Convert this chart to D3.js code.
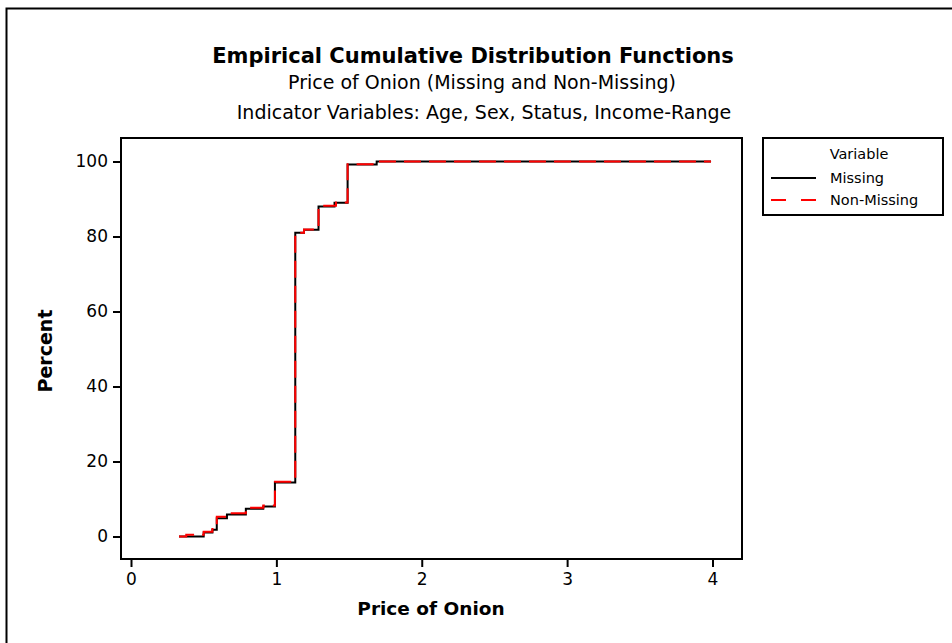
<!DOCTYPE html>
<html>
<head>
<meta charset="utf-8">
<script src="https://cdn.jsdelivr.net/npm/d3@7"></script>
<style>
  body { margin: 0; background: #fff; }
  svg { display: block; font-family: "DejaVu Sans", sans-serif; }
</style>
</head>
<body>
<svg id="svg" width="952" height="643"></svg>
<script>
// step points (price, cumulative percent)
const missingX   = [0.33, 0.50, 0.56, 0.59, 0.66, 0.79, 0.91, 0.99, 1.13, 1.19, 1.29, 1.40, 1.49, 1.69, 3.99];
const missingPct = [0,    1.1,  1.8,  4.9,  5.9,  7.4,  8.0,  14.4, 81.0, 81.8, 88.0, 89.0, 99.2, 100,  100];

const nonMissingX   = [0.33, 0.38, 0.50, 0.56, 0.59, 0.67, 0.79, 0.91, 0.99, 1.13, 1.19, 1.29, 1.41, 1.49, 1.69, 3.99];
const nonMissingPct = [0,    0.5,  1.3,  2.0,  5.3,  6.2,  7.7,  8.3,  14.6, 81.0, 81.9, 88.2, 89.1, 99.3, 100,  100];

const xTicks = [0, 1, 2, 3, 4];
const yTicks = [0, 20, 40, 60, 80, 100];

const seriesNames = ["Missing", "Non-Missing"];

const svg = d3.select("#svg");

// outer border (only left/top show in the picture)
svg.append("rect")
  .attr("x", 6.5).attr("y", 8.5)
  .attr("width", 1000).attr("height", 1000)
  .attr("fill", "none").attr("stroke", "#000").attr("stroke-width", 2);

// plot box
const box = {left: 121, right: 742, top: 138, bottom: 559};

const x = d3.scaleLinear().domain([-0.0688, 4.203]).range([box.left, box.right]);
const y = d3.scaleLinear().domain([-6.0, 106.27]).range([box.bottom, box.top]);

// titles
svg.append("text")
  .attr("x", 473).attr("y", 63)
  .attr("text-anchor", "middle")
  .attr("font-size", 21).attr("font-weight", "bold")
  .text("Empirical Cumulative Distribution Functions");
svg.append("text")
  .attr("x", 482).attr("y", 89)
  .attr("text-anchor", "middle")
  .attr("font-size", 19)
  .text("Price of Onion (Missing and Non-Missing)");
svg.append("text")
  .attr("x", 484).attr("y", 119)
  .attr("text-anchor", "middle")
  .attr("font-size", 19)
  .text("Indicator Variables: Age, Sex, Status, Income-Range");

// axes
const xAxis = svg.append("g")
  .attr("transform", `translate(0,${box.bottom})`)
  .call(d3.axisBottom(x).tickValues(xTicks).tickFormat(d3.format("d"))
    .tickSize(8).tickSizeOuter(0).tickPadding(6));
const yAxis = svg.append("g")
  .attr("transform", `translate(${box.left},0)`)
  .call(d3.axisLeft(y).tickValues(yTicks).tickFormat(d3.format("d"))
    .tickSize(8).tickSizeOuter(0).tickPadding(5));

[xAxis, yAxis].forEach(g => {
  g.select(".domain").remove();
  g.selectAll("line").attr("stroke", "#000").attr("stroke-width", 2);
  g.selectAll("text").attr("font-family", "DejaVu Sans").attr("font-size", 17).attr("fill", "#000");
});

svg.append("rect")
  .attr("x", box.left).attr("y", box.top)
  .attr("width", box.right - box.left).attr("height", box.bottom - box.top)
  .attr("fill", "none").attr("stroke", "#000").attr("stroke-width", 2);

// axis labels
svg.append("text")
  .attr("x", 431).attr("y", 615)
  .attr("text-anchor", "middle")
  .attr("font-size", 18.5).attr("font-weight", "bold")
  .text("Price of Onion");
svg.append("text")
  .attr("transform", "translate(52,351) rotate(-90)")
  .attr("text-anchor", "middle")
  .attr("font-size", 19).attr("font-weight", "bold")
  .text("Percent");

// ecdf step lines
const line = d3.line()
  .x(d => x(d[0]))
  .y(d => y(d[1]))
  .curve(d3.curveStepAfter);

svg.append("path")
  .datum(d3.zip(missingX, missingPct))
  .attr("d", line)
  .attr("fill", "none").attr("stroke", "#000").attr("stroke-width", 2);

svg.append("path")
  .datum(d3.zip(nonMissingX, nonMissingPct))
  .attr("d", line)
  .attr("fill", "none").attr("stroke", "#ff0000").attr("stroke-width", 2)
  .attr("stroke-dasharray", "17,8");

// legend
const lg = svg.append("g");
lg.append("rect")
  .attr("x", 763).attr("y", 138).attr("width", 180).attr("height", 77)
  .attr("fill", "none").attr("stroke", "#000").attr("stroke-width", 2);
lg.append("text")
  .attr("x", 859).attr("y", 159).attr("text-anchor", "middle")
  .attr("font-size", 14.5).text("Variable");

seriesNames.forEach((name, i) => {
  const yy = 178 + i * 22;
  lg.append("line")
    .attr("x1", 771).attr("x2", 816).attr("y1", yy).attr("y2", yy)
    .attr("stroke", i === 0 ? "#000" : "#ff0000").attr("stroke-width", 2)
    .attr("stroke-dasharray", i === 0 ? null : "15,15");
  lg.append("text")
    .attr("x", 830).attr("y", yy + 5)
    .attr("font-size", 14.5).text(name);
});
</script>
</body>
</html>
